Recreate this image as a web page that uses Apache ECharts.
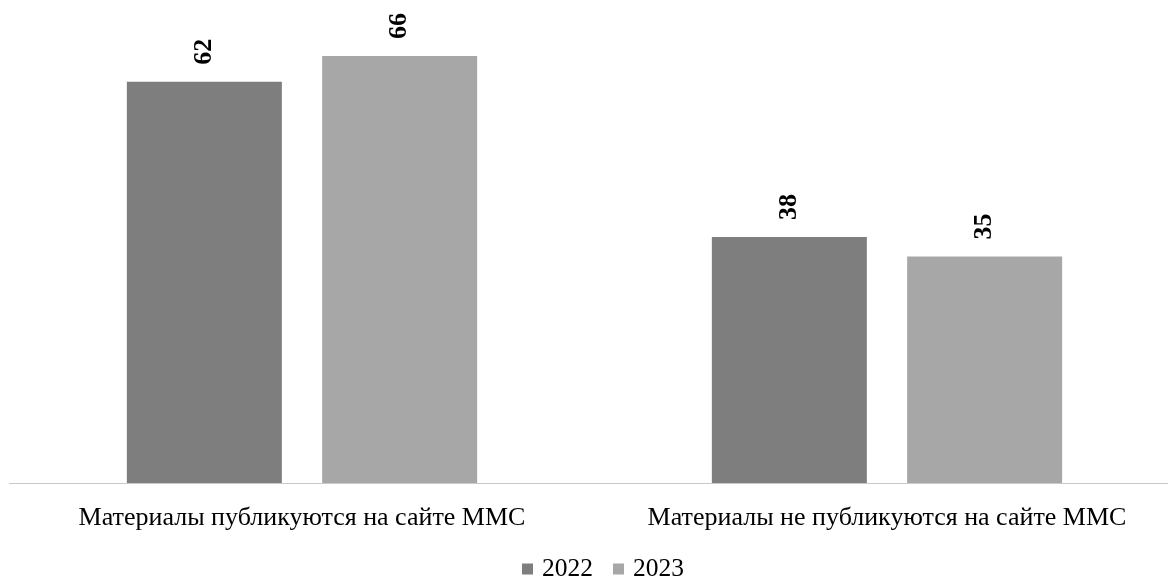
<!DOCTYPE html>
<html>
<head>
<meta charset="utf-8">
<style>html,body{margin:0;padding:0;background:#fff;}#c{width:1168px;height:580px;}</style>
<script src="https://cdn.jsdelivr.net/npm/echarts@6/dist/echarts.min.js"></script>
</head>
<body>
<div id="c"></div>
<script>
const categories = ['Материалы публикуются на сайте ММС', 'Материалы не публикуются на сайте ММС'];
const seriesNames = ['2022', '2023'];
const values2022 = [62, 38];
const values2023 = [66, 35];

const chart = echarts.init(document.getElementById('c'));
const serif = '"Liberation Serif", "DejaVu Serif", serif';
const labelOpt = {
  show: true, position: 'top', rotate: 90, distance: 17,
  align: 'left', verticalAlign: 'middle',
  fontFamily: serif, fontWeight: 'bold', fontSize: 26, color: '#000'
};
chart.setOption({
  animation: false,
  grid: { left: 9.5, width: 1170, top: 30, bottom: 97, outerBoundsMode: 'none', containLabel: false },
  legend: {
    top: 556, left: 522, padding: 0, icon: 'rect', itemWidth: 11, itemHeight: 11, itemGap: 20,
    textStyle: { fontFamily: serif, fontSize: 25.5, color: '#000', padding: [0, 0, 0, 4] },
    data: seriesNames
  },
  xAxis: {
    type: 'category', data: categories,
    axisTick: { show: false },
    axisLine: { lineStyle: { color: '#c4c4c4', type: 'dotted', width: 1 } },
    axisLabel: { interval: 0, hideOverlap: false, fontFamily: serif, fontSize: 26, color: '#000', margin: 22 }
  },
  yAxis: { type: 'value', min: 0, max: 70, show: false, splitLine: { show: false } },
  series: [
    { name: seriesNames[0], type: 'bar', data: values2022, barWidth: 155, barGap: '26%',
      itemStyle: { color: '#7e7e7e' }, label: labelOpt },
    { name: seriesNames[1], type: 'bar', data: values2023, barWidth: 155, barGap: '26%',
      itemStyle: { color: '#a7a7a7' }, label: labelOpt }
  ]
});
</script>
</body>
</html>
